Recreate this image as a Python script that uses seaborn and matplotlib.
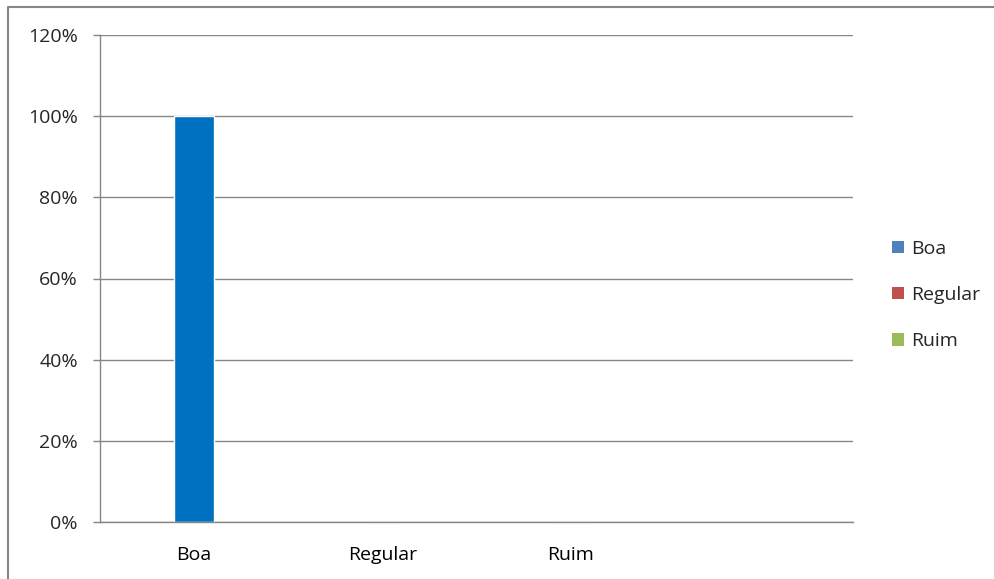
import pandas as pd
import numpy as np
import matplotlib
matplotlib.use("Agg")
import matplotlib.pyplot as plt
import seaborn as sns
from matplotlib.patches import Patch
from matplotlib.lines import Line2D
from matplotlib.ticker import PercentFormatter

# --- dados ---
categorias = ['Boa', 'Regular', 'Ruim', '']
valores = [1.0, 0.0, 0.0, np.nan]
series = ['Boa', 'Regular', 'Ruim']
cores_series = ['#4F81BD', '#C0504D', '#9BBB59']
cor_barra = '#0070C0'

sns.set_theme(style='white')
plt.rcParams['font.family'] = ['Open Sans', 'DejaVu Sans']
fs = 14

df = pd.DataFrame({'categoria': categorias, 'valor': valores})

fig = plt.figure(figsize=(9.95, 5.79), dpi=100)
ax = fig.add_axes([100 / 995, 1 - 522 / 579, 753 / 995, 487 / 579])

sns.barplot(data=df, x='categoria', y='valor', order=categorias, color=cor_barra,
            width=0.21, saturation=1, ax=ax)

cinza = '#868686'
ax.set_ylim(0, 1.2)
ax.set_xlim(-0.5, 3.5)
ax.set_yticks(np.arange(0, 1.21, 0.2))
ax.yaxis.set_major_formatter(PercentFormatter(1.0, decimals=0))
ax.yaxis.grid(True, color=cinza, linewidth=1)
ax.set_axisbelow(True)
ax.set_xlabel('')
ax.set_ylabel('')

# ticks do eixo x nas fronteiras das categorias
ax.set_xticks(np.arange(-0.5, 4.0, 1.0), minor=True)
ax.tick_params(axis='x', which='major', length=0, pad=17, labelsize=fs, colors='black')
ax.tick_params(axis='x', which='minor', length=5, width=1, color=cinza, direction='out')
ax.tick_params(axis='y', length=5, width=1, color=cinza, direction='out', pad=11,
               labelsize=fs, left=True)

for s in ['top', 'right']:
    ax.spines[s].set_visible(False)
for s in ['left', 'bottom']:
    ax.spines[s].set_color(cinza)
    ax.spines[s].set_linewidth(1)

handles = [Patch(facecolor=c, edgecolor='none', label=n) for c, n in zip(cores_series, series)]
fig.legend(handles=handles, loc='center left', bbox_to_anchor=(875 / 995, 1 - 295 / 579),
           frameon=False, fontsize=fs, handlelength=0.6, handleheight=0.6,
           handletextpad=0.35, labelspacing=1.45)

# moldura externa do gráfico (só borda esquerda e superior visíveis)
borda_x = [8 / 995, 8 / 995, 1.0]
borda_y = [0.0, 1 - 7 / 579, 1 - 7 / 579]
fig.add_artist(Line2D(borda_x, borda_y, transform=fig.transFigure,
                      color=cinza, linewidth=1.5))

fig.savefig('out.png', dpi=100)
